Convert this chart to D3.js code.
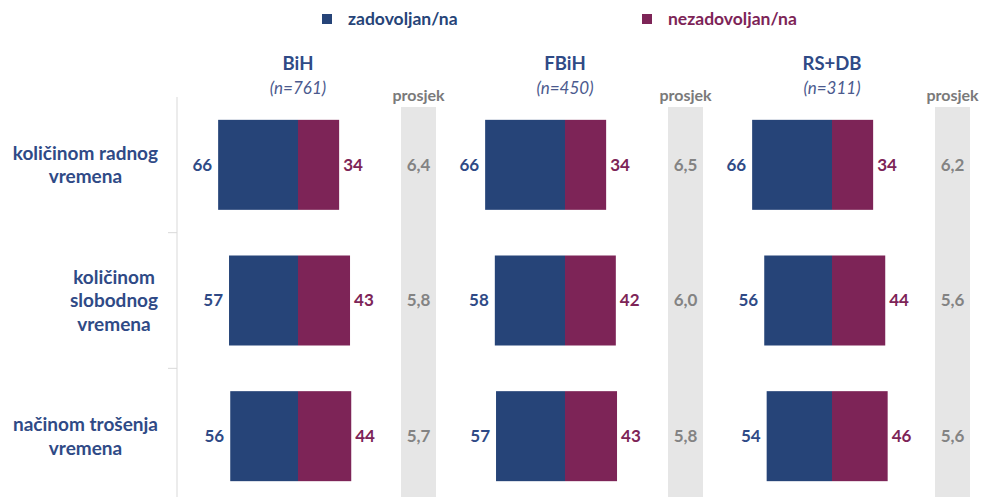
<!DOCTYPE html>
<html>
<head>
<meta charset="utf-8">
<script src="https://cdn.jsdelivr.net/npm/d3@7"></script>
<style>
  html, body { margin: 0; padding: 0; background: #fff; }
  svg { display: block; font-family: Lato, "Open Sans", sans-serif; }
</style>
</head>
<body>
<svg id="chart" width="981" height="497"></svg>
<script>
// Satisfaction with working time / free time / how time is spent
const regions = ["BiH", "FBiH", "RS+DB"];
const sampleSizes = [761, 450, 311];
const categories = [
  ["količinom radnog", "vremena"],
  ["količinom", "slobodnog", "vremena"],
  ["načinom trošenja", "vremena"]
];
const seriesNames = ["zadovoljan/na", "nezadovoljan/na"];
// per region, per category
const satisfied = [
  [66, 57, 56],
  [66, 58, 57],
  [66, 56, 54]
];
const dissatisfied = [
  [34, 43, 44],
  [34, 42, 43],
  [34, 44, 46]
];
const averages = [
  [6.4, 5.8, 5.7],
  [6.5, 6.0, 5.8],
  [6.2, 5.6, 5.6]
];
const averageLabel = "prosjek";

const BLUE = "#264478";
const PLUM = "#7d2457";
const LABEL_BLUE = "#2f4a86";
const GREY_TXT = "#838383";

const svg = d3.select("#chart");

// Scales
const y = d3.scaleBand().domain(d3.range(categories.length)).range([97, 504]);
const cx = d3.scalePoint().domain(regions).range([298, 832]);
const w = d3.scaleLinear().domain([0, 100]).range([0, 121]);
const barH = 90;
const avgOffset = 103, avgWidth = 35;
const fmt = v => d3.format(".1f")(v).replace(".", ",");

// Legend
const legend = [
  { name: seriesNames[0], color: BLUE, x: 322 },
  { name: seriesNames[1], color: PLUM, x: 642 }
];
const lg = svg.selectAll("g.legend").data(legend).join("g")
  .attr("class", "legend")
  .attr("transform", d => `translate(${d.x},0)`);
lg.append("rect").attr("x", 0).attr("y", 14).attr("width", 10).attr("height", 10)
  .attr("fill", d => d.color);
lg.append("text").attr("x", 26).attr("y", 19).attr("dy", "0.35em")
  .attr("font-size", 17.5).attr("font-weight", 700)
  .attr("fill", d => d.color).text(d => d.name);

// Category axis
const axisG = svg.append("g");
axisG.append("line").attr("x1", 177).attr("x2", 177).attr("y1", 97).attr("y2", 497)
  .attr("stroke", "#d9d9d9").attr("stroke-width", 1);
axisG.selectAll("line.tick").data(d3.range(1, categories.length)).join("line")
  .attr("class", "tick")
  .attr("x1", 168).attr("x2", 177)
  .attr("y1", d => y(d)).attr("y2", d => y(d))
  .attr("stroke", "#d9d9d9");

// Category labels: block right-aligned, lines centred in block
categories.forEach((lines, i) => {
  const g = svg.append("g");
  const cy = y(i) + y.bandwidth() / 2;
  const lh = 23.5;
  const texts = g.selectAll("text").data(lines).join("text")
    .attr("y", (d, k) => cy + (k - (lines.length - 1) / 2) * lh)
    .attr("dy", "0.35em")
    .attr("font-size", 19).attr("font-weight", 700)
    .attr("fill", LABEL_BLUE)
    .attr("text-anchor", "middle")
    .text(d => d);
  let maxW = 0;
  texts.each(function () { maxW = Math.max(maxW, this.getComputedTextLength()); });
  texts.attr("x", 158 - maxW / 2);
});

// Panels
regions.forEach((r, ri) => {
  const c = cx(r);
  const g = svg.append("g");

  // average column
  g.append("rect").attr("x", c + avgOffset).attr("y", 107)
    .attr("width", avgWidth).attr("height", 497 - 107).attr("fill", "#e6e6e6");
  g.append("text").attr("x", c + avgOffset + avgWidth / 2).attr("y", 95)
    .attr("text-anchor", "middle").attr("dy", "0.35em")
    .attr("font-size", 16).attr("font-weight", 700).attr("fill", "#7a7a7a")
    .text(averageLabel);

  // header
  g.append("text").attr("x", c).attr("y", 64).attr("dy", "0.35em")
    .attr("text-anchor", "middle").attr("font-size", 18.5).attr("font-weight", 700)
    .attr("fill", LABEL_BLUE).text(r);
  g.append("text").attr("x", c).attr("y", 88).attr("dy", "0.35em")
    .attr("text-anchor", "middle").attr("font-size", 17).attr("font-style", "italic")
    .attr("fill", "#4b5a8e").text(`(n=${sampleSizes[ri]})`);

  const rows = categories.map((_, i) => ({
    i, s: satisfied[ri][i], d: dissatisfied[ri][i], a: averages[ri][i]
  }));

  const row = g.selectAll("g.row").data(rows).join("g").attr("class", "row")
    .attr("transform", d => `translate(0,${y(d.i) + y.bandwidth() / 2})`);

  row.append("rect").attr("x", d => c - w(d.s)).attr("y", -barH / 2)
    .attr("width", d => w(d.s)).attr("height", barH).attr("fill", BLUE);
  row.append("rect").attr("x", c).attr("y", -barH / 2)
    .attr("width", d => w(d.d)).attr("height", barH).attr("fill", PLUM);

  row.append("text").attr("x", d => c - w(d.s) - 6).attr("dy", "0.35em")
    .attr("text-anchor", "end").attr("font-size", 17).attr("font-weight", 700)
    .attr("fill", LABEL_BLUE).text(d => d.s);
  row.append("text").attr("x", d => c + w(d.d) + 4).attr("dy", "0.35em")
    .attr("text-anchor", "start").attr("font-size", 17).attr("font-weight", 700)
    .attr("fill", PLUM).text(d => d.d);
  row.append("text").attr("x", c + avgOffset + avgWidth / 2).attr("dy", "0.35em")
    .attr("text-anchor", "middle").attr("font-size", 17).attr("font-weight", 700)
    .attr("fill", GREY_TXT).text(d => fmt(d.a));
});
</script>
</body>
</html>
